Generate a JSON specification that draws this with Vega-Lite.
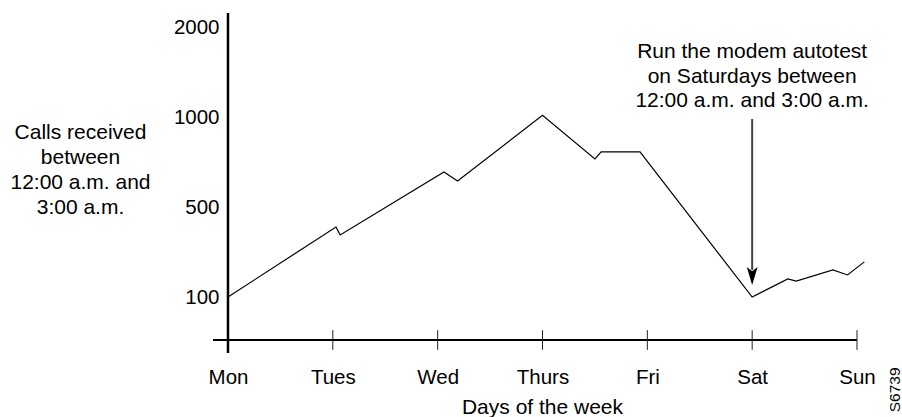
{
  "$schema": "https://vega.github.io/schema/vega-lite/v6.json",
  "width": 644,
  "height": 327,
  "autosize": "none",
  "padding": {"left": 213, "top": 13, "right": 45, "bottom": 77},
  "background": "white",
  "config": {"view": {"stroke": null}, "font": "Liberation Sans"},
  "datasets": {
    "calls": [
      {"day": 0, "calls": 100},
      {"day": 1.03, "calls": 411},
      {"day": 1.07, "calls": 376},
      {"day": 2.06, "calls": 694},
      {"day": 2.19, "calls": 644},
      {"day": 3.0, "calls": 1020},
      {"day": 3.5, "calls": 767},
      {"day": 3.56, "calls": 806},
      {"day": 3.93, "calls": 806},
      {"day": 5.0, "calls": 100},
      {"day": 5.34, "calls": 180},
      {"day": 5.42, "calls": 171},
      {"day": 5.77, "calls": 220},
      {"day": 5.91, "calls": 198},
      {"day": 6.07, "calls": 256}
    ],
    "days": [
      {"day": 0, "name": "Mon"},
      {"day": 1, "name": "Tues"},
      {"day": 2, "name": "Wed"},
      {"day": 3, "name": "Thurs"},
      {"day": 4, "name": "Fri"},
      {"day": 5, "name": "Sat"},
      {"day": 6, "name": "Sun"}
    ]
  },
  "layer": [
    {
      "data": {"name": "calls"},
      "mark": {"type": "line", "color": "black", "strokeWidth": 1.2},
      "encoding": {
        "x": {
          "field": "day",
          "type": "quantitative",
          "scale": {"domain": [-0.143, 6], "nice": false, "zero": false},
          "axis": {
            "values": [0, 1, 2, 3, 4, 5, 6],
            "labelExpr": "['Mon','Tues','Wed','Thurs','Fri','Sat','Sun'][datum.value]",
            "domain": false,
            "ticks": false,
            "grid": false,
            "labelFlush": false,
            "labelOverlap": false,
            "labelFontSize": 20.5,
            "labelColor": "black",
            "labelBaseline": "alphabetic",
            "labelPadding": 43,
            "title": "Days of the week",
            "titleFontSize": 21,
            "titleFontWeight": "normal",
            "titleColor": "black",
            "titleBaseline": "alphabetic",
            "titleAlign": "center",
            "titleX": 329,
            "titleY": 73
          }
        },
        "y": {
          "field": "calls",
          "type": "quantitative",
          "scale": {
            "domain": [0, 100, 500, 1000, 2000, 2150],
            "range": [327, 284, 194, 104, 14, 0],
            "nice": false,
            "zero": false
          },
          "axis": {
            "values": [100, 500, 1000, 2000],
            "format": "d",
            "domain": false,
            "ticks": false,
            "grid": false,
            "offset": -15,
            "labelPadding": 9,
            "labelFlush": false,
            "labelOverlap": false,
            "labelFontSize": 20.5,
            "labelColor": "black",
            "labelBaseline": "middle",
            "title": ["Calls received", "between", "12:00 a.m. and", "3:00 a.m."],
            "titleAngle": 0,
            "titleAlign": "center",
            "titleBaseline": "middle",
            "titleX": -148,
            "titleY": 119,
            "titleLineHeight": 25,
            "titleFontSize": 21,
            "titleFontWeight": "normal",
            "titleColor": "black"
          }
        }
      }
    },
    {
      "data": {"values": [{}]},
      "mark": {"type": "rule", "color": "black", "strokeWidth": 2},
      "encoding": {
        "x": {"datum": -0.143},
        "x2": {"datum": 6},
        "y": {"datum": 0}
      }
    },
    {
      "data": {"name": "days"},
      "mark": {"type": "rule", "color": "#222", "strokeWidth": 1},
      "encoding": {
        "x": {"field": "day", "type": "quantitative"},
        "y": {"datum": 23},
        "y2": {"datum": -23}
      }
    },
    {
      "data": {"values": [{}]},
      "mark": {"type": "rule", "color": "black", "strokeWidth": 2.5},
      "encoding": {
        "x": {"datum": 0},
        "y": {"datum": 2150},
        "y2": {"datum": -30}
      }
    },
    {
      "data": {"values": [{}]},
      "mark": {"type": "rule", "color": "#444", "strokeWidth": 2},
      "encoding": {
        "x": {"datum": 5},
        "y": {"datum": 989},
        "y2": {"datum": 220}
      }
    },
    {
      "data": {"values": [{}]},
      "mark": {
        "type": "point",
        "shape": "M0,1L-0.6,-1L0,-0.55L0.6,-1Z",
        "size": 324,
        "filled": true,
        "color": "black",
        "opacity": 1
      },
      "encoding": {
        "x": {"datum": 5},
        "y": {"datum": 193}
      }
    },
    {
      "data": {"values": [{}]},
      "mark": {
        "type": "text",
        "text": ["Run the modem autotest", "on Saturdays between", "12:00 a.m. and 3:00 a.m."],
        "fontSize": 21,
        "lineHeight": 24.5,
        "align": "center",
        "baseline": "middle",
        "color": "black"
      },
      "encoding": {
        "x": {"datum": 5},
        "y": {"datum": 1722}
      }
    },
    {
      "data": {"values": [{}]},
      "mark": {
        "type": "text",
        "text": "S6739",
        "fontSize": 15.5,
        "angle": 270,
        "align": "center",
        "baseline": "middle",
        "color": "black"
      },
      "encoding": {
        "x": {"datum": 6.36},
        "y": {"datum": -116}
      }
    }
  ]
}
